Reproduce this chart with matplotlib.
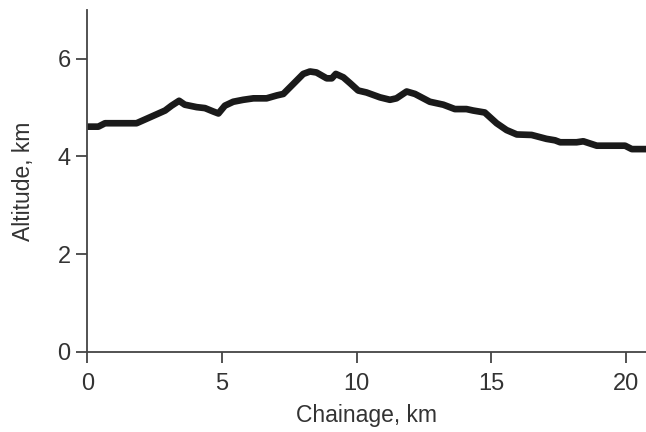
import numpy as np
import matplotlib
matplotlib.use("Agg")
import matplotlib.pyplot as plt

# chainage (km) and altitude (km)
chainage = [0.0, 0.41, 0.66, 1.83, 2.32, 2.89, 3.13, 3.41, 3.62, 4.06, 4.37, 4.68, 4.87,
            5.11, 5.42, 5.79, 6.17, 6.66, 7.04, 7.28, 7.66, 8.02, 8.27, 8.51, 8.89,
            9.08, 9.23, 9.51, 9.76, 10.06, 10.37, 10.87, 11.24, 11.48, 11.86, 12.17,
            12.72, 13.22, 13.65, 14.08, 14.33, 14.76, 15.20, 15.57, 15.95, 16.50,
            17.05, 17.37, 17.56, 18.17, 18.42, 18.92, 19.97, 20.22, 20.75]
altitude = [4.61, 4.61, 4.68, 4.68, 4.80, 4.94, 5.04, 5.14, 5.06, 5.01, 4.99, 4.92, 4.88,
            5.04, 5.12, 5.16, 5.19, 5.19, 5.25, 5.28, 5.49, 5.69, 5.74, 5.72, 5.60,
            5.60, 5.69, 5.62, 5.50, 5.35, 5.31, 5.21, 5.16, 5.19, 5.33, 5.28,
            5.12, 5.06, 4.97, 4.97, 4.94, 4.90, 4.68, 4.54, 4.45, 4.44,
            4.36, 4.33, 4.29, 4.29, 4.31, 4.22, 4.22, 4.15, 4.15]

xticks = [0, 5, 10, 15, 20]
yticks = [0, 2, 4, 6]

plt.rcParams['font.family'] = ['Liberation Sans', 'DejaVu Sans']

fig = plt.figure(figsize=(6.46, 4.32), dpi=100)
ax = fig.add_axes([0.1351, 0.1859, 0.865, 0.791])

ax.plot(chainage, altitude, color='#1a1a1a', lw=4.8, solid_joinstyle='round',
        solid_capstyle='butt', clip_on=False)

ax.set_xlim(0, 20.75)
ax.set_ylim(0, 7.0)
ax.set_xticks(xticks)
ax.set_yticks(yticks)

for s in ['top', 'right']:
    ax.spines[s].set_visible(False)
for s in ['left', 'bottom']:
    ax.spines[s].set_color('#444444')
    ax.spines[s].set_linewidth(1.3)

ax.tick_params(axis='both', direction='out', length=8, width=1.3, color='#444444',
               labelsize=17, labelcolor='#333333')
ax.tick_params(axis='x', pad=7)
ax.tick_params(axis='y', pad=4)

ax.set_xlabel('Chainage, km', fontsize=16.5, color='#333333', labelpad=7)
ax.set_ylabel('Altitude, km', fontsize=16.5, color='#333333', labelpad=16)

fig.savefig('out.png', dpi=100)
